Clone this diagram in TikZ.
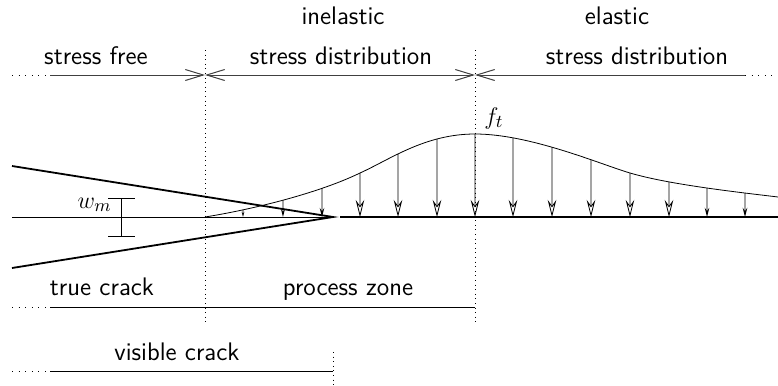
\documentclass[tikz,border=0pt]{standalone}
\usetikzlibrary{arrows.meta,intersections}
\tikzset{mybarb/.tip={Straight Barb[length=9pt,width=5.5pt]}}
\begin{document}
\begin{tikzpicture}[x=0.5pt,y=-0.5pt,
  lbl/.style={font=\sffamily\fontsize{12.7}{15}\selectfont, inner sep=0pt, anchor=base},
  thinline/.style={line width=0.4pt},
  hdots/.style={line width=0.5pt, dash pattern=on 0.5pt off 2.8pt},
  vdots/.style={line width=0.5pt, dash pattern=on 0.5pt off 1.8pt},
  dim/.style={line width=0.5pt, black!75},
  face/.style={line width=0.9pt},
  load/.style={line width=0.4pt, -{Stealth[open,length=#1,width'=0pt 0.5,inset'=0pt 0.35]}}]
\useasboundingbox (0,0) rectangle (778,386);

% labels
\node[lbl] (sf) at (96,64) {stress free};
\node[lbl] (inel) at (343,24) {inelastic};
\node[lbl] (isd) at (341,64) {stress distribution};
\node[lbl] (el) at (617,24) {elastic};
\node[lbl] (esd) at (637,64) {stress distribution};
\node[lbl] (tc) at (102,295) {true crack};
\node[lbl] (pz) at (348,295) {process zone};
\node[lbl] (vc) at (177,360) {visible crack};
\node[lbl, anchor=base west] (ft) at (484,124) {$f_t$};
\node[lbl, anchor=base east] (wm) at (112,208) {$w_m$};

% top dimension line
\coordinate (t0) at (12,75);
\coordinate (t1) at (50,75);
\coordinate (t2) at (205,75);
\coordinate (t3) at (475,75);
\coordinate (t4) at (745,75);
\coordinate (t5) at (778,75);
\draw[hdots] (t0) -- (t1);
\draw[dim,-{mybarb}] (t1) -- (t2);
\draw[dim,{mybarb}-{mybarb}] (t2) -- (t3);
\draw[dim,{mybarb}-] (t3) -- (t4);
\draw[hdots] (t4) -- (t5);

% vertical dotted lines
\coordinate (v1a) at (205,50); \coordinate (v1b) at (205,322);
\coordinate (v2a) at (475,50); \coordinate (v2b) at (475,322);
\coordinate (v3a) at (333,352); \coordinate (v3b) at (333,385);
\draw[vdots] (v1a) -- (v1b);
\draw[vdots] (v2a) -- (v2b);
\draw[vdots] (v3a) -- (v3b);

% crack
\coordinate (cu) at (12,166);
\coordinate (cl) at (12,268);
\coordinate (tip) at (333,217);
\coordinate (m0) at (12,217);
\coordinate (lg0) at (340,217);
\coordinate (lg1) at (778,217);
\draw[thinline] (m0) -- (tip);
\draw[face] (cu) -- (tip) -- (cl);
\draw[face] (lg0) -- (lg1);

% w_m dimension
\coordinate (w1) at (121,198); \coordinate (w2) at (121,236);
\coordinate (w1l) at (108,198); \coordinate (w1r) at (135,198);
\coordinate (w2l) at (108,236); \coordinate (w2r) at (135,236);
\draw[thinline] (w1) -- (w2) (w1l) -- (w1r) (w2l) -- (w2r);

% stress curve
\coordinate (s0) at (205,217);
\coordinate (sm) at (360,173);
\coordinate (s1) at (475,134);
\coordinate (s2) at (630,173);
\coordinate (s3) at (778,197);
\draw[thinline, name path=curve] (s0) .. controls (255,209) and (320,192.5) .. (sm)
  .. controls (390,159.5) and (425,134) .. (s1)
  .. controls (530,134) and (600,164.1) .. (s2)
  .. controls (670,184.8) and (740,192.4) .. (s3);

% load arrows
\foreach \i/\x/\s in {1/243/2.6,2/283/4,3/322/4.5,4/360/8.5,5/398/8.5,6/437/8.5,7/475/8.5,8/513/8.5,9/552/8.5,10/591/8.5,11/630/8.5,12/669/8.5,13/707/4.6,14/745/4.6}{
  \coordinate (b\i) at (\x,217);
  \path[name path=vl] (\x,100) -- (\x,216.5);
  \path[name intersections={of=curve and vl, by={c\i}}];
  \draw[load=\s pt] (c\i) -- (b\i);
}

% bottom lines
\coordinate (p0) at (12,307); \coordinate (p1) at (50,307); \coordinate (p2) at (475,307);
\coordinate (q0) at (12,371); \coordinate (q1) at (50,371); \coordinate (q2) at (333,371);
\draw[hdots] (p0) -- (p1);
\draw[thinline] (p1) -- (p2);
\draw[hdots] (q0) -- (q1);
\draw[thinline] (q1) -- (q2);
\end{tikzpicture}
\end{document}
